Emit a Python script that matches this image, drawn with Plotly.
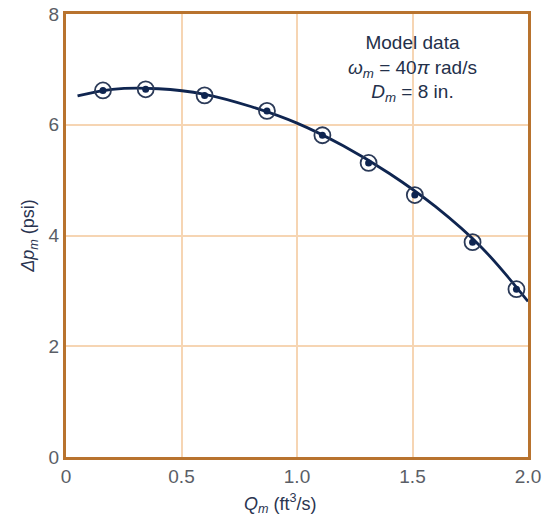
import plotly.graph_objects as go

# Measured model data points
q_data = [0.16, 0.345, 0.60, 0.87, 1.11, 1.31, 1.51, 1.76, 1.95]
dp_data = [6.62, 6.64, 6.53, 6.25, 5.81, 5.31, 4.73, 3.88, 3.03]

# Fitted curve
q_curve = [0.05, 0.2, 0.4, 0.6, 0.8, 1.0, 1.2, 1.4, 1.6, 1.8, 2.0]
dp_curve = [6.52, 6.64, 6.65, 6.55, 6.33, 6.03, 5.62, 5.12, 4.52, 3.78, 2.81]

x_tickvals = [0, 0.5, 1.0, 1.5, 2.0]
x_ticktext = ["0", "0.5", "1.0", "1.5", "2.0"]
y_tickvals = [0, 2, 4, 6, 8]
y_ticktext = ["0", "2", "4", "6", "8"]

navy = "#0f2550"
frame = "#b8732e"
grid = "#f6d5b3"
tickc = "#5a5e66"
titlec = "#2a3450"

fig = go.Figure()
fig.add_trace(go.Scatter(x=q_curve, y=dp_curve, mode="lines",
                         line=dict(color=navy, width=2.8, shape="spline"),
                         showlegend=False, hoverinfo="skip"))
fig.add_trace(go.Scatter(x=q_data, y=dp_data, mode="markers",
                         marker=dict(symbol="circle", size=16, color="rgba(255,255,255,0)",
                                     line=dict(color="#2b3a58", width=1.8)),
                         showlegend=False))
fig.add_trace(go.Scatter(x=q_data, y=dp_data, mode="markers",
                         marker=dict(symbol="circle", size=7, color=navy,
                                     line=dict(width=0)),
                         showlegend=False))

fig.add_annotation(x=1.5, y=7.72, xref="x", yref="y",
                   text="Model data<br><i>ω<sub>m</sub></i> = 40<i>π</i> rad/s<br><i>D<sub>m</sub></i> = 8 in.",
                   showarrow=False, align="center",
                   font=dict(family="Liberation Sans, Arial", size=19, color="#23304a"),
                   yanchor="top")

# x-axis title as annotation (slightly left of centre, as in the original)
fig.add_annotation(x=0.93, y=-0.104, xref="x", yref="paper",
                   text="<i>Q<sub>m</sub></i> (ft<sup>3</sup>/s)",
                   showarrow=False, yanchor="middle", xanchor="center",
                   font=dict(family="Liberation Sans, Arial", size=18, color=titlec))

fig.update_layout(
    width=549, height=518,
    margin=dict(l=66, r=21, t=14, b=61),
    paper_bgcolor="white", plot_bgcolor="white",
    font=dict(family="Liberation Sans, Arial", color=tickc),
    xaxis=dict(range=[0, 2.0], tickvals=x_tickvals, ticktext=x_ticktext,
               showgrid=True, gridcolor=grid, gridwidth=1.5, zeroline=False,
               showline=True, linecolor=frame, linewidth=3, mirror=True,
               ticks="", tickfont=dict(size=19, color=tickc), automargin=False),
    yaxis=dict(range=[0, 8], tickvals=y_tickvals, ticktext=y_ticktext,
               showgrid=True, gridcolor=grid, gridwidth=1.5, zeroline=False,
               showline=True, linecolor=frame, linewidth=3, mirror=True,
               ticks="", tickfont=dict(size=19, color=tickc), automargin=False,
               title=dict(text="<i>Δp<sub>m</sub></i> (psi)",
                          font=dict(size=18, color=titlec), standoff=10)),
)

fig.write_html("out.html", config={"displayModeBar": False},
               post_script="document.body.style.margin='0px';")
